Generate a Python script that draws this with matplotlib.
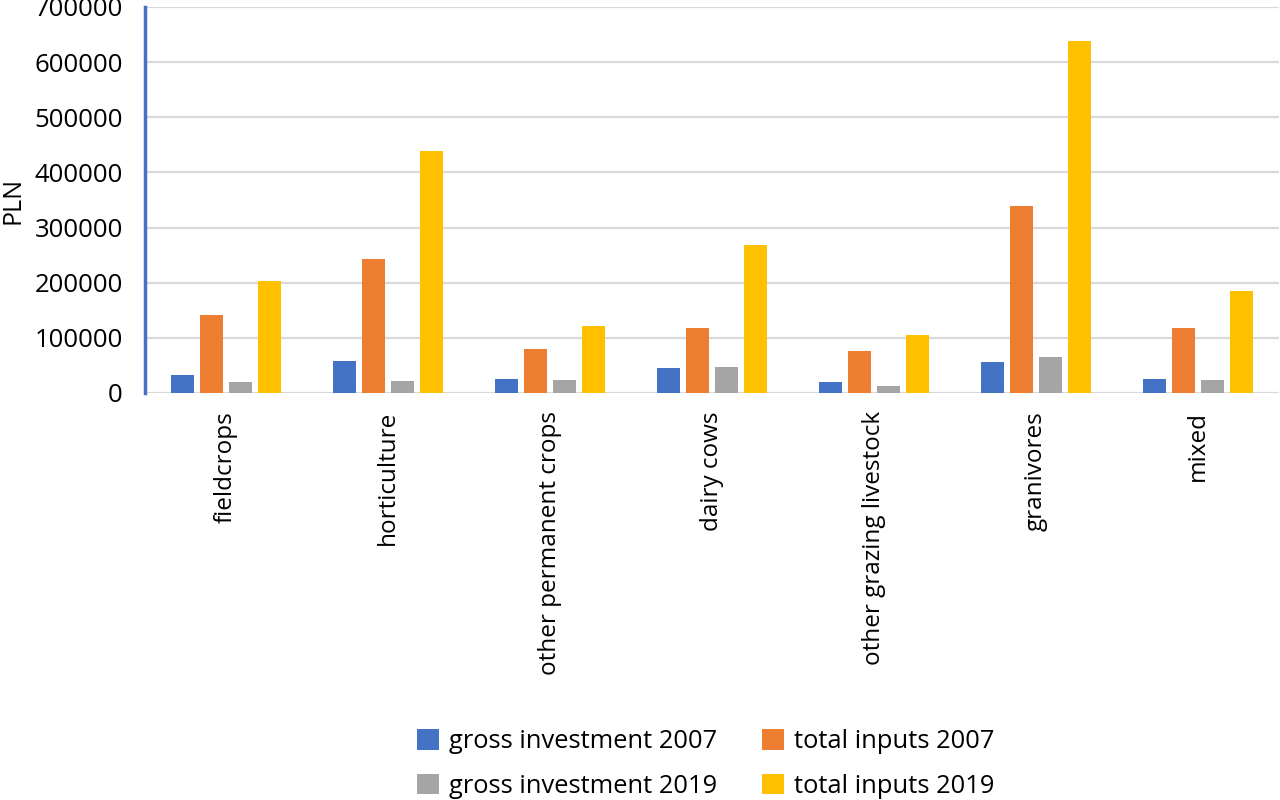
import numpy as np
import matplotlib
matplotlib.use("Agg")
import matplotlib.pyplot as plt

plt.rcParams["font.family"] = ["Open Sans", "DejaVu Sans"]

categories = ["fieldcrops", "horticulture", "other permanent crops", "dairy cows",
              "other grazing livestock", "granivores", "mixed"]
gross_2007 = [33400, 57500, 26100, 45400, 20700, 55700, 25400]
inputs_2007 = [141600, 242100, 79300, 118700, 76200, 339400, 117400]
gross_2019 = [20700, 21800, 23600, 47200, 12200, 66000, 23000]
inputs_2019 = [204000, 438600, 121000, 269300, 105300, 638300, 185800]

series = [
    ("gross investment 2007", gross_2007, "#4472C4"),
    ("total inputs 2007", inputs_2007, "#ED7D31"),
    ("gross investment 2019", gross_2019, "#A5A5A5"),
    ("total inputs 2019", inputs_2019, "#FFC000"),
]

fig = plt.figure(figsize=(12.8, 8), dpi=100)
ax = fig.add_axes([145 / 1280, 1 - 393 / 800, 1134 / 1280, 386 / 800])

x = np.arange(len(categories))
step = 0.181
width = 0.142
handles = []
for i, (label, vals, color) in enumerate(series):
    h = ax.bar(x + (i - 1.5) * step, vals, width, color=color, label=label, zorder=3)
    handles.append(h)

ax.set_xlim(-0.5, len(categories) - 0.5)
ax.set_ylim(0, 700000)
ax.set_yticks(np.arange(0, 700001, 100000))
ax.yaxis.grid(True, color="#d9d9d9", linewidth=1.6, zorder=0)
ax.set_axisbelow(True)

for s in ["top", "right", "bottom"]:
    ax.spines[s].set_visible(False)
ax.spines["left"].set_color("#4472C4")
ax.spines["left"].set_linewidth(2.5)
ax.spines["left"].set_zorder(4)

ax.set_xticks(x)
ax.set_xticklabels(categories, rotation=90, fontsize=17.5)
ax.tick_params(axis="both", length=0, colors="black")
ax.tick_params(axis="y", labelsize=18.5, pad=16)
ax.tick_params(axis="x", pad=13)
ax.set_ylabel("PLN", fontsize=18, labelpad=2)
ax.yaxis.set_label_coords(-0.105, 0.5)

# fill column-wise so rows read 2007 / 2019
order = [0, 2, 1, 3]
fig.legend(handles=[handles[k] for k in order], loc="center",
           bbox_to_anchor=(706 / 1280, 1 - 764 / 800),
           ncol=2, frameon=False, fontsize=18.4, handlelength=0.85, handleheight=0.85,
           columnspacing=1.75, handletextpad=0.4, labelspacing=0.75)
fig.savefig("out.png", dpi=100)
